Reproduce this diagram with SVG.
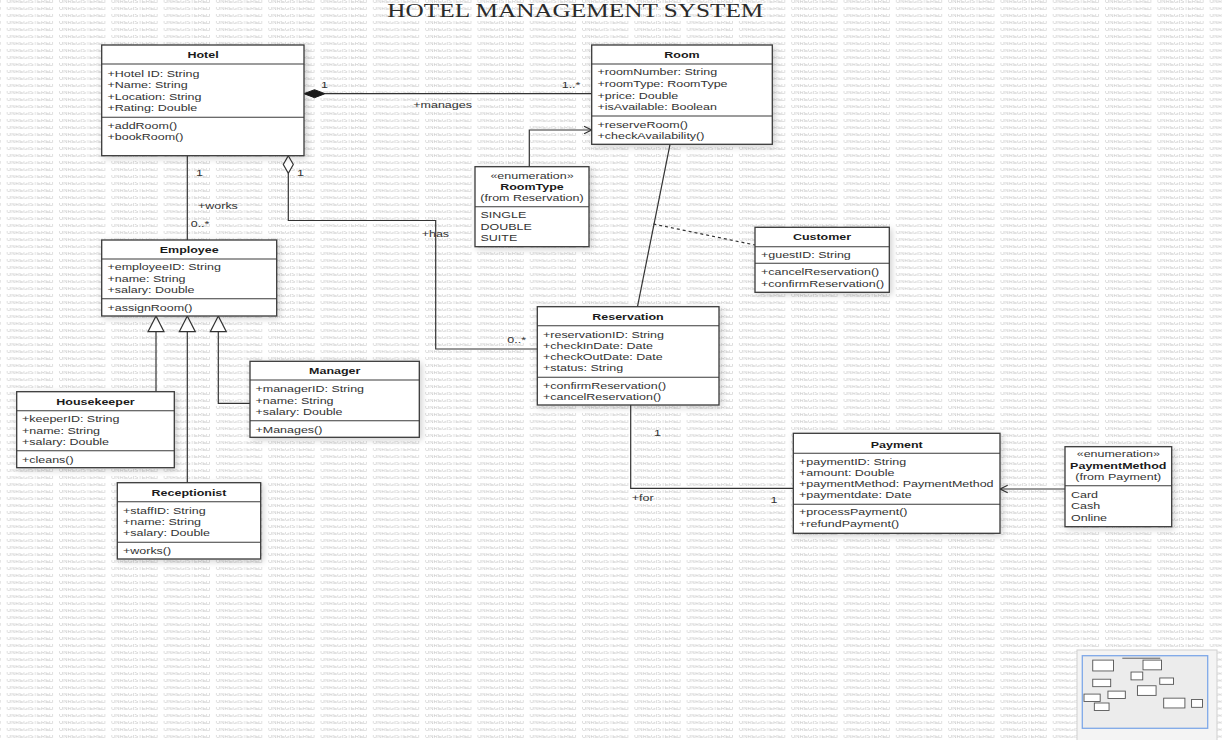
<svg xmlns="http://www.w3.org/2000/svg" width="1222" height="740" viewBox="0 0 1222 740">
<style>
text{font-family:"Liberation Sans",Arial,sans-serif;font-size:12.5px;fill:#333}
.t{font-weight:bold;text-anchor:middle;fill:#1a1a1a}
.c{text-anchor:middle}
.b{font-weight:bold}
.box{fill:#fff;stroke:#3a3a3a;stroke-width:1.3;filter:url(#sh)}
.sep{stroke:#3a3a3a;stroke-width:1.1}
.ln{fill:none;stroke:#333;stroke-width:1.2}
.dash{fill:none;stroke:#333;stroke-width:1.2;stroke-dasharray:3,3}
.wm{font-size:5.9px;fill:#c9c9c9}
.mini{fill:#fff;stroke:#555;stroke-width:9}
</style>
<defs>
<pattern id="wmp" patternUnits="userSpaceOnUse" x="6.7" y="0" width="52.3" height="7">
<text class="wm" x="0" y="3.2">UNREGISTERED</text>
</pattern>
<filter id="sh" x="-10%" y="-10%" width="130%" height="130%">
<feDropShadow dx="2" dy="2" stdDeviation="3" flood-color="#000" flood-opacity="0.18"/>
</filter>
</defs>
<rect x="0" y="0" width="1222" height="740" fill="#fff"/>
<rect x="0" y="0" width="1222" height="740" fill="url(#wmp)"/>

<text transform="translate(575.3 17) scale(1 .77)" x="0" y="0" textLength="376" lengthAdjust="spacingAndGlyphs" text-anchor="middle" style="font-family:'Liberation Serif','Times New Roman',serif;font-size:24px;fill:#2a2a2a">HOTEL MANAGEMENT SYSTEM</text>

<g id="connectors">
<line class="ln" x1="325" y1="93.7" x2="591.7" y2="93.7"/>
<polygon points="304,93.7 314.5,89.7 325,93.7 314.5,97.7" fill="#1a1a1a" stroke="#1a1a1a" stroke-width="1"/>
<text transform="translate(321 87.5) scale(1 .78)">1</text>
<text transform="translate(561.7 87.5) scale(1 .78)">1..*</text>
<text transform="translate(413.3 108) scale(1 .78)">+manages</text>

<polyline class="ln" points="529.3,166.7 529.3,130 591.7,130"/>
<path class="ln" d="M584,126.3 L591.7,130 L584,133.7"/>

<line class="ln" x1="670" y1="144.3" x2="637.5" y2="306.7"/>
<line class="dash" x1="653.3" y1="224" x2="755" y2="245"/>

<line class="ln" x1="187.3" y1="155.7" x2="187.3" y2="240"/>
<text transform="translate(196 176) scale(1 .78)">1</text>
<text transform="translate(198 208.5) scale(1 .78)">+works</text>
<text transform="translate(190.7 226.7) scale(1 .78)">0..*</text>

<polyline class="ln" points="288.3,173.3 288.3,220.5 435.7,220.5 435.7,349 537.3,349"/>
<polygon points="288.3,155.7 293.3,164.5 288.3,173.3 283.3,164.5" fill="#fff" stroke="#333" stroke-width="1.2"/>
<text transform="translate(297 175.5) scale(1 .78)">1</text>
<text transform="translate(421.7 236.5) scale(1 .78)">+has</text>
<text transform="translate(507.3 343) scale(1 .78)">0..*</text>

<line class="ln" x1="156" y1="331.7" x2="156" y2="391.7"/>
<line class="ln" x1="187.3" y1="331.7" x2="187.3" y2="482.7"/>
<polyline class="ln" points="218.3,331.7 218.3,403.3 250,403.3"/>
<polygon points="156,316 164,331.7 148,331.7" fill="#fff" stroke="#333" stroke-width="1.2"/>
<polygon points="187.3,316 195.3,331.7 179.3,331.7" fill="#fff" stroke="#333" stroke-width="1.2"/>
<polygon points="218.3,316 226.3,331.7 210.3,331.7" fill="#fff" stroke="#333" stroke-width="1.2"/>

<polyline class="ln" points="630.7,405 630.7,488.3 793.3,488.3"/>
<text transform="translate(654 436) scale(1 .78)">1</text>
<text transform="translate(631.7 500.5) scale(1 .78)">+for</text>
<text transform="translate(770.5 503) scale(1 .78)">1</text>

<line class="ln" x1="1065" y1="489" x2="1000" y2="489"/>
<path class="ln" d="M1007.7,485.3 L1000,489 L1007.7,492.7"/>
</g>

<g id="hotel">
<rect class="box" x="101.7" y="45" width="202.3" height="110.7"/>
<line class="sep" x1="101.7" y1="64" x2="304" y2="64"/>
<line class="sep" x1="101.7" y1="117.3" x2="304" y2="117.3"/>
<text class="t" transform="translate(203 58) scale(1 .78)">Hotel</text>
<text transform="translate(107.5 77) scale(1 .78)">+Hotel ID: String</text>
<text transform="translate(107.5 88.4) scale(1 .78)">+Name: String</text>
<text transform="translate(107.5 100) scale(1 .78)">+Location: String</text>
<text transform="translate(107.5 111.4) scale(1 .78)">+Rating: Double</text>
<text transform="translate(107.5 128.7) scale(1 .78)">+addRoom()</text>
<text transform="translate(107.5 140.4) scale(1 .78)">+bookRoom()</text>
</g>

<g id="room">
<rect class="box" x="591.7" y="45" width="180.6" height="99.3"/>
<line class="sep" x1="591.7" y1="64" x2="772.3" y2="64"/>
<line class="sep" x1="591.7" y1="116" x2="772.3" y2="116"/>
<text class="t" transform="translate(682 58) scale(1 .78)">Room</text>
<text transform="translate(597.5 75.4) scale(1 .78)">+roomNumber: String</text>
<text transform="translate(597.5 87) scale(1 .78)">+roomType: RoomType</text>
<text transform="translate(597.5 98.7) scale(1 .78)">+price: Double</text>
<text transform="translate(597.5 110) scale(1 .78)">+isAvailable: Boolean</text>
<text transform="translate(597.5 127.7) scale(1 .78)">+reserveRoom()</text>
<text transform="translate(597.5 138.7) scale(1 .78)">+checkAvailability()</text>
</g>

<g id="roomtype">
<rect class="box" x="475" y="166.7" width="114" height="80"/>
<line class="sep" x1="475" y1="206.7" x2="589" y2="206.7"/>
<text class="c" transform="translate(532 178.7) scale(1 .78)">«enumeration»</text>
<text class="c b" transform="translate(532 190) scale(1 .78)" style="fill:#1a1a1a">RoomType</text>
<text class="c" transform="translate(532 201.4) scale(1 .78)">(from Reservation)</text>
<text transform="translate(480.5 218) scale(1 .78)">SINGLE</text>
<text transform="translate(480.5 229.7) scale(1 .78)">DOUBLE</text>
<text transform="translate(480.5 241.4) scale(1 .78)">SUITE</text>
</g>

<g id="customer">
<rect class="box" x="755" y="227.3" width="134.3" height="65"/>
<line class="sep" x1="755" y1="246.7" x2="889.3" y2="246.7"/>
<line class="sep" x1="755" y1="263.3" x2="889.3" y2="263.3"/>
<text class="t" transform="translate(822 240.4) scale(1 .78)">Customer</text>
<text transform="translate(761 258) scale(1 .78)">+guestID: String</text>
<text transform="translate(761 275.4) scale(1 .78)">+cancelReservation()</text>
<text transform="translate(761 287) scale(1 .78)">+confirmReservation()</text>
</g>

<g id="reservation">
<rect class="box" x="537.3" y="306.7" width="181.7" height="98.3"/>
<line class="sep" x1="537.3" y1="325.7" x2="719" y2="325.7"/>
<line class="sep" x1="537.3" y1="377.3" x2="719" y2="377.3"/>
<text class="t" transform="translate(628 319.7) scale(1 .78)">Reservation</text>
<text transform="translate(543 337.7) scale(1 .78)">+reservationID: String</text>
<text transform="translate(543 349) scale(1 .78)">+checkInDate: Date</text>
<text transform="translate(543 360.4) scale(1 .78)">+checkOutDate: Date</text>
<text transform="translate(543 371.4) scale(1 .78)">+status: String</text>
<text transform="translate(543 388.7) scale(1 .78)">+confirmReservation()</text>
<text transform="translate(543 400) scale(1 .78)">+cancelReservation()</text>
</g>

<g id="employee">
<rect class="box" x="101.7" y="240" width="175" height="76"/>
<line class="sep" x1="101.7" y1="259" x2="276.7" y2="259"/>
<line class="sep" x1="101.7" y1="298.7" x2="276.7" y2="298.7"/>
<text class="t" transform="translate(189.2 252.7) scale(1 .78)">Employee</text>
<text transform="translate(107.5 270.4) scale(1 .78)">+employeeID: String</text>
<text transform="translate(107.5 282) scale(1 .78)">+name: String</text>
<text transform="translate(107.5 293) scale(1 .78)">+salary: Double</text>
<text transform="translate(107.5 310.7) scale(1 .78)">+assignRoom()</text>
</g>

<g id="housekeeper">
<rect class="box" x="16.7" y="391.7" width="157.6" height="76"/>
<line class="sep" x1="16.7" y1="410.7" x2="174.3" y2="410.7"/>
<line class="sep" x1="16.7" y1="450.7" x2="174.3" y2="450.7"/>
<text class="t" transform="translate(95.5 404.7) scale(1 .78)">Housekeeper</text>
<text transform="translate(22 422.4) scale(1 .78)">+keeperID: String</text>
<text transform="translate(22 433.7) scale(1 .78)">+name: String</text>
<text transform="translate(22 444.7) scale(1 .78)">+salary: Double</text>
<text transform="translate(22 462.7) scale(1 .78)">+cleans()</text>
</g>

<g id="manager">
<rect class="box" x="250" y="361.3" width="169.3" height="76"/>
<line class="sep" x1="250" y1="380" x2="419.3" y2="380"/>
<line class="sep" x1="250" y1="420.7" x2="419.3" y2="420.7"/>
<text class="t" transform="translate(334.7 374) scale(1 .78)">Manager</text>
<text transform="translate(255.5 392) scale(1 .78)">+managerID: String</text>
<text transform="translate(255.5 403.7) scale(1 .78)">+name: String</text>
<text transform="translate(255.5 414.7) scale(1 .78)">+salary: Double</text>
<text transform="translate(255.5 432.7) scale(1 .78)">+Manages()</text>
</g>

<g id="receptionist">
<rect class="box" x="117.3" y="482.7" width="143.4" height="76.3"/>
<line class="sep" x1="117.3" y1="501.7" x2="260.7" y2="501.7"/>
<line class="sep" x1="117.3" y1="542.3" x2="260.7" y2="542.3"/>
<text class="t" transform="translate(189 495.7) scale(1 .78)">Receptionist</text>
<text transform="translate(123 513.7) scale(1 .78)">+staffID: String</text>
<text transform="translate(123 525) scale(1 .78)">+name: String</text>
<text transform="translate(123 536) scale(1 .78)">+salary: Double</text>
<text transform="translate(123 553.7) scale(1 .78)">+works()</text>
</g>

<g id="payment">
<rect class="box" x="793.3" y="433.3" width="206.7" height="100"/>
<line class="sep" x1="793.3" y1="453.3" x2="1000" y2="453.3"/>
<line class="sep" x1="793.3" y1="504.3" x2="1000" y2="504.3"/>
<text class="t" transform="translate(896.7 447.7) scale(1 .78)">Payment</text>
<text transform="translate(799 465.4) scale(1 .78)">+paymentID: String</text>
<text transform="translate(799 476.2) scale(1 .78)">+amount: Double</text>
<text transform="translate(799 487.1) scale(1 .78)">+paymentMethod: PaymentMethod</text>
<text transform="translate(799 498) scale(1 .78)">+paymentdate: Date</text>
<text transform="translate(799 515.4) scale(1 .78)">+processPayment()</text>
<text transform="translate(799 527) scale(1 .78)">+refundPayment()</text>
</g>

<g id="paymentmethod">
<rect class="box" x="1065" y="446.7" width="106.7" height="80"/>
<line class="sep" x1="1065" y1="485.7" x2="1171.7" y2="485.7"/>
<text class="c" transform="translate(1118.3 457) scale(1 .78)">«enumeration»</text>
<text class="c b" transform="translate(1118.3 469.4) scale(1 .78)" style="fill:#1a1a1a">PaymentMethod</text>
<text class="c" transform="translate(1118.3 480.4) scale(1 .78)">(from Payment)</text>
<text transform="translate(1071 497.7) scale(1 .78)">Card</text>
<text transform="translate(1071 509.4) scale(1 .78)">Cash</text>
<text transform="translate(1071 521) scale(1 .78)">Online</text>
</g>

<g id="minimap">
<rect x="1077" y="650" width="140" height="92" fill="#f4f4f4" stroke="#d0d0d0" stroke-width="1"/>
<rect x="1082.3" y="655.7" width="125.4" height="72.6" fill="#ececec" stroke="#7ea8e8" stroke-width="1.3"/>
<g transform="translate(1082.3,655.7) scale(0.1026,0.098)">
<rect x="390" y="20" width="370" height="12" fill="#777"/>
<rect class="mini" x="101.7" y="45" width="202.3" height="110.7"/>
<rect class="mini" x="591.7" y="45" width="180.6" height="99.3"/>
<rect class="mini" x="475" y="166.7" width="114" height="80"/>
<rect class="mini" x="755" y="227.3" width="134.3" height="65"/>
<rect class="mini" x="537.3" y="306.7" width="181.7" height="98.3"/>
<rect class="mini" x="101.7" y="240" width="175" height="76"/>
<rect class="mini" x="16.7" y="391.7" width="157.6" height="76"/>
<rect class="mini" x="250" y="361.3" width="169.3" height="76"/>
<rect class="mini" x="117.3" y="482.7" width="143.4" height="76.3"/>
<rect class="mini" x="793.3" y="433.3" width="206.7" height="100"/>
<rect class="mini" x="1065" y="446.7" width="106.7" height="80"/>
</g>
</g>
</svg>
